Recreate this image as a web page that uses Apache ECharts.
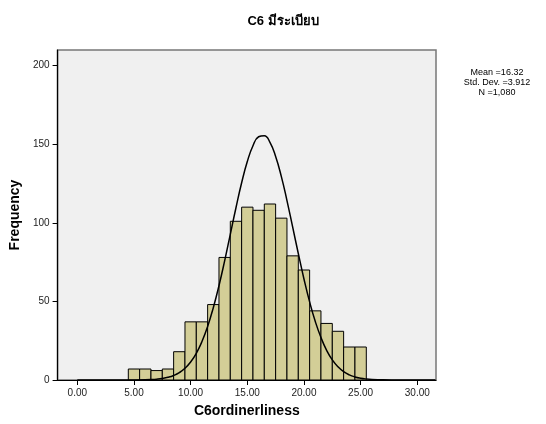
<!DOCTYPE html>
<html>
<head>
<meta charset="utf-8">
<script src="https://cdn.jsdelivr.net/npm/echarts@6/dist/echarts.min.js"></script>
<style>html,body{margin:0;padding:0;background:#fff}#c{width:546px;height:424px}</style>
</head>
<body>
<div id="c"></div>
<script>
// bin centres (width 1) and their frequencies
const binCenters = [5, 6, 7, 8, 9, 10, 11, 12, 13, 14, 15, 16, 17, 18, 19, 20, 21, 22, 23, 24, 25];
const frequencies = [7, 7, 6, 7, 18, 37, 37, 48, 78, 101, 110, 108, 112, 103, 79, 70, 44, 36, 31, 21, 21];
// normal curve
const curveX = [0, 4, 5, 6, 6.5, 7, 7.5, 8, 8.5, 9, 9.5, 10, 10.5, 11, 11.5, 12, 12.5, 13, 13.5, 14, 14.5, 15, 15.5, 16, 16.5, 17, 17.5, 18, 18.5, 19, 19.5, 20, 20.5, 21, 21.5, 22, 22.5, 23, 23.5, 24, 24.5, 25, 25.5, 26, 27, 28, 29, 31.6];
const curveY = [0, 0.01, 0.04, 0.15, 0.29, 0.53, 0.96, 1.69, 2.87, 4.7, 7.45, 11.45, 17.0, 24.5, 34.1, 46.0, 60.0, 75.8, 92.7, 109.6, 125.5, 139.0, 149.1, 154.8, 155.5, 151.2, 142.2, 129.6, 114.2, 97.4, 80.5, 64.3, 49.7, 37.2, 27.0, 18.9, 12.8, 8.43, 5.36, 3.3, 1.96, 1.13, 0.63, 0.34, 0.09, 0.02, 0, 0];
const xTicks = [0, 5, 10, 15, 20, 25, 30];
const yTicks = [0, 50, 100, 150, 200];
const statLines = ['Mean =16.32', 'Std. Dev. =3.912', 'N =1,080'];
const titleText = 'C6 มีระเบียบ';
const xName = 'C6ordinerliness';
const yName = 'Frequency';

const FONT = '"Liberation Sans", Arial, "Noto Sans", sans-serif';
const chart = echarts.init(document.getElementById('c'), null, {renderer: 'canvas'});

chart.setOption({
  animation: false,
  backgroundColor: '#ffffff',
  grid: {
    left: 53, right: 110, top: 50, bottom: 44,
    show: true, backgroundColor: '#f0f0f0', borderColor: '#777777', borderWidth: 1.5
  },
  graphic: [
    {type: 'text', x: 283, y: 21, style: {text: titleText, font: 'bold 13px ' + FONT, fill: '#000', textAlign: 'center', textVerticalAlign: 'middle'}},
    {type: 'text', x: 497, y: 68, style: {text: statLines.join('\n'), font: '9px ' + FONT, lineHeight: 10, fill: '#000', textAlign: 'center', textVerticalAlign: 'top'}}
  ],
  xAxis: {
    type: 'value', min: -1.74, max: 31.65, z: 5,
    name: xName, nameLocation: 'middle', nameGap: 24,
    nameTextStyle: {fontFamily: FONT, fontWeight: 'bold', fontSize: 14, color: '#000'},
    axisLine: {show: true, onZero: false, lineStyle: {color: '#000', width: 1}},
    axisTick: {show: true, length: 5, inside: false, customValues: xTicks, lineStyle: {color: '#000'}},
    axisLabel: {customValues: xTicks, margin: 8, fontFamily: FONT, fontSize: 10, color: '#222', formatter: v => v.toFixed(2)},
    splitLine: {show: false}
  },
  yAxis: {
    type: 'value', min: 0, max: 210, z: 5,
    name: yName, nameLocation: 'middle', nameGap: 27, nameRotate: 90,
    nameTextStyle: {fontFamily: FONT, fontWeight: 'bold', fontSize: 14, color: '#000'},
    axisLine: {show: true, onZero: false, lineStyle: {color: '#000', width: 1.2}},
    axisTick: {show: true, length: 5, customValues: yTicks, lineStyle: {color: '#000'}},
    axisLabel: {customValues: yTicks, margin: 8, fontFamily: FONT, fontSize: 10, color: '#222'},
    splitLine: {show: false}
  },
  series: [
    {
      type: 'custom',
      data: binCenters.map((c, i) => [c, frequencies[i]]),
      renderItem: function (params, api) {
        const x = api.value(0), y = api.value(1);
        const p0 = api.coord([x - 0.5, 0]);
        const p1 = api.coord([x + 0.5, y]);
        return {
          type: 'rect',
          shape: {x: p0[0], y: p1[1], width: p1[0] - p0[0], height: p0[1] - p1[1]},
          style: {fill: '#D3CE97', stroke: '#000', lineWidth: 1}
        };
      },
      z: 2
    },
    {
      type: 'line',
      data: curveX.map((x, i) => [x, curveY[i]]),
      smooth: true, showSymbol: false, symbol: 'none',
      lineStyle: {color: '#000', width: 1.5},
      z: 3, clip: true
    }
  ]
});
</script>
</body>
</html>
